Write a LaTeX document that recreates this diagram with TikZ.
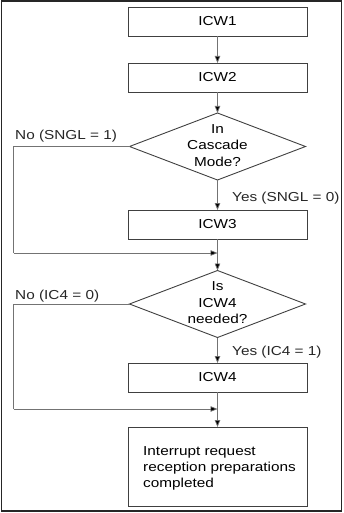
\documentclass[tikz,border=0pt]{standalone}
\usepackage{fontspec}
\setmainfont[FakeStretch=1.18]{Liberation Sans}
\usetikzlibrary{shapes.geometric,arrows.meta}
\begin{document}
\begin{tikzpicture}[x=1pt,y=-1pt,
  font=\fontsize{13}{16.5}\selectfont,
  stepbox/.style={draw=black!75,line width=0.9pt,minimum width=179pt,minimum height=29pt,inner sep=0pt,outer sep=0pt},
  decision/.style={draw=black!75,line width=0.9pt,diamond,minimum width=176pt,minimum height=67pt,inner sep=0pt,outer sep=0pt},
  flow/.style={draw=black!55,line width=0.7pt,-{Triangle[length=7pt,width=5.5pt,fill=black]}},
  plain/.style={draw=black!55,line width=0.7pt},
  lbl/.style={inner sep=0pt,text=black!85}]
  \useasboundingbox (0,0) rectangle (343,513);
  % frame
  \draw[line width=1.4pt,black!85] (1.5,1) rectangle (341.5,511);

  % steps and decisions
  \node[stepbox] (icw1) at (217.5,21.5) {ICW1};
  \node[stepbox] (icw2) at (217.5,77.5) {ICW2};
  \node[decision] (d1) at (217.5,146.5) {};
  \node[align=center,inner sep=0pt] (d1t) at (217.5,145.5) {In\\Cascade\\Mode?};
  \node[stepbox] (icw3) at (217.5,224.5) {ICW3};
  \node[decision] (d2) at (217.5,304) {};
  \node[align=center,inner sep=0pt] (d2t) at (217.5,303) {Is\\ICW4\\needed?};
  \node[stepbox] (icw4) at (217.5,377.5) {ICW4};
  \node[stepbox,minimum height=79pt] (done) at (217.5,466.5) {};
  \node[align=left,anchor=west,inner sep=0pt,font=\fontsize{13}{16}\selectfont] (donet) at (143,468) {Interrupt request\\reception preparations\\completed};

  % join points
  \coordinate (j1) at (217.5,253);
  \coordinate (j2) at (217.5,409);
  \coordinate (l1) at (13.5,253);
  \coordinate (l2) at (13.5,409);

  % connectors
  \draw[flow] (icw1) -- (icw2);
  \draw[flow] (icw2) -- (d1);
  \draw[flow] (d1) -- (icw3);
  \draw[flow] (icw3) -- (d2);
  \draw[plain] (d1.west) -| (l1);
  \draw[flow] (l1) -- (j1);
  \draw[flow] (d2) -- (icw4);
  \draw[flow] (icw4) -- (done);
  \draw[plain] (d2.west) -| (l2);
  \draw[flow] (l2) -- (j2);

  % branch labels
  \node[lbl,anchor=west] (no1) at (15,136) {No (SNGL = 1)};
  \node[lbl,anchor=west] (yes1) at (232,198) {Yes (SNGL = 0)};
  \node[lbl,anchor=west] (no2) at (15,296) {No (IC4 = 0)};
  \node[lbl,anchor=west] (yes2) at (232,352) {Yes (IC4 = 1)};
\end{tikzpicture}
\end{document}
